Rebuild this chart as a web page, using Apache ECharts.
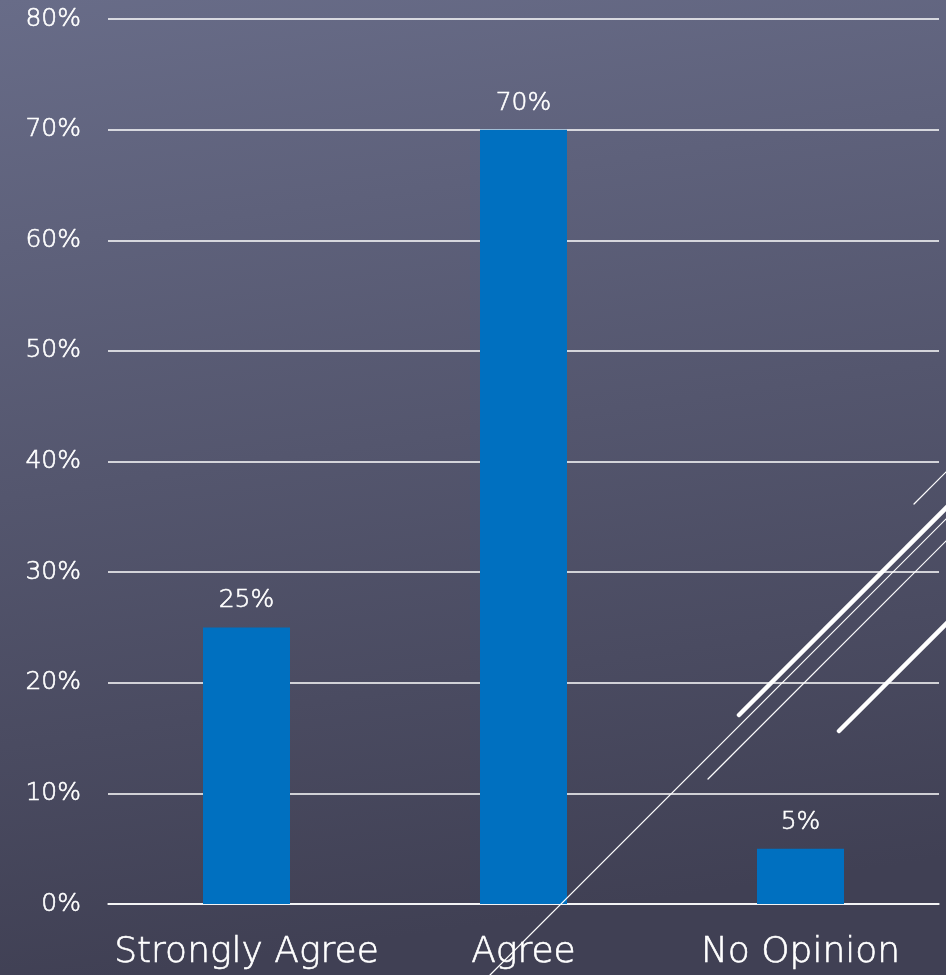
<!DOCTYPE html>
<html>
<head>
<meta charset="utf-8">
<script src="https://cdn.jsdelivr.net/npm/echarts@6/dist/echarts.min.js"></script>
<style>
  html, body { margin: 0; padding: 0; }
  #chart { width: 946px; height: 975px; }
</style>
</head>
<body>
<div id="chart"></div>
<script>
// data
const categories = ['Strongly Agree', 'Agree', 'No Opinion'];
const values = [25, 70, 5];

const FONT = '"DejaVu Sans", sans-serif';

const chart = echarts.init(document.getElementById('chart'));

// decorative diagonal strokes (theme ornament, not data)
const strokes = [
  { x1: 914, y1: 504, x2: 950, y2: 468, w: 1.2 },
  { x1: 739, y1: 715, x2: 950, y2: 504, w: 4.5 },
  { x1: 490, y1: 975, x2: 950, y2: 515, w: 1.2 },
  { x1: 708, y1: 779, x2: 950, y2: 537, w: 1.2 },
  { x1: 839, y1: 731, x2: 950, y2: 620, w: 4.5 }
];

// thin font, slightly thickened with a white outline
const txt = { color: '#ffffff', fontFamily: FONT, fontWeight: 300, textBorderColor: '#ffffff', textBorderWidth: 0.6 };

const option = {
  backgroundColor: {
    type: 'linear', x: 0, y: 0, x2: 0.15, y2: 1,
    colorStops: [
      { offset: 0, color: '#686c88' },
      { offset: 1, color: '#404054' }
    ]
  },
  grid: { left: 108, right: 7, top: 19, bottom: 71 },
  xAxis: {
    type: 'category',
    data: categories,
    axisTick: { show: false },
    axisLine: { lineStyle: { color: '#ffffff', width: 1.5 } },
    axisLabel: Object.assign({ fontSize: 36, margin: 31, interval: 0 }, txt)
  },
  yAxis: {
    type: 'value',
    min: 0, max: 80, interval: 10,
    axisLine: { show: false },
    axisTick: { show: false },
    splitLine: { lineStyle: { color: '#ffffff', width: 1.5 } },
    axisLabel: Object.assign({ fontSize: 25, margin: 27, formatter: '{value}%' }, txt)
  },
  series: [{
    type: 'bar',
    data: values,
    barWidth: 87,
    itemStyle: { color: '#0070c0' },
    label: Object.assign({
      show: true, position: 'top', distance: 14, fontSize: 25,
      formatter: '{c}%'
    }, txt)
  }],
  graphic: strokes.map(s => ({
    type: 'line', z: 100, silent: true,
    shape: { x1: s.x1, y1: s.y1, x2: s.x2, y2: s.y2 },
    style: { stroke: '#ffffff', lineWidth: s.w, lineCap: 'round' }
  }))
};

chart.setOption(option);
</script>
</body>
</html>
